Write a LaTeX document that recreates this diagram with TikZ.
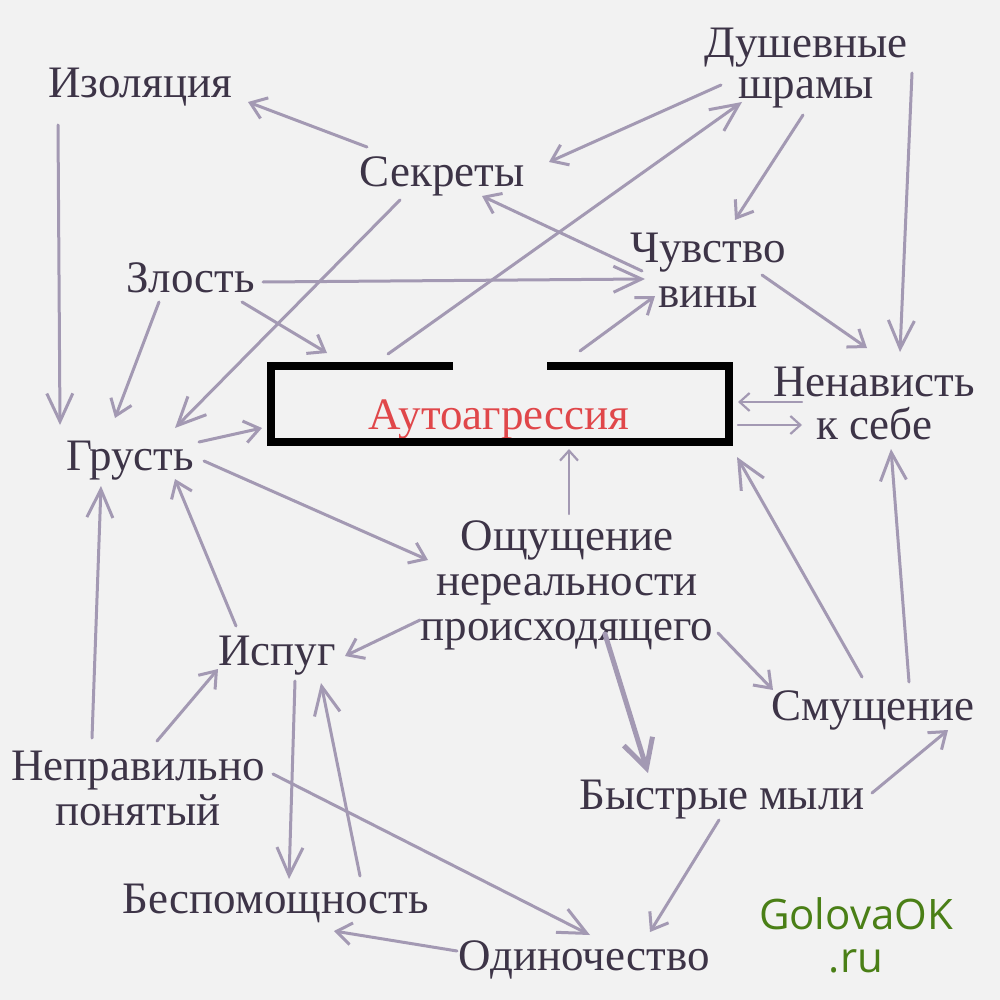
\documentclass[tikz,border=0pt]{standalone}
\usepackage{fontspec}
\setmainfont{Liberation Serif}
\newfontfamily\lblfont{Liberation Serif}
\newfontfamily\logofont{Open Sans}
\usetikzlibrary{arrows.meta}
\definecolor{bgc}{HTML}{F2F2F2}
\definecolor{txt}{HTML}{3D3447}
\definecolor{arc}{HTML}{A399B3}
\definecolor{redt}{HTML}{E0474A}
\definecolor{grn}{HTML}{4A7F16}
\tikzset{
 lbl/.style={inner sep=0pt, outer sep=0pt, text=txt, font=\lblfont\fontsize{45}{45}\selectfont, align=center},
 con/.style={draw=arc, line width=3pt, line cap=round},
 am/.style={con, -{Straight Barb[length=15pt,width=22pt]}},
 al/.style={con, -{Straight Barb[length=28pt,width=26pt]}},
 as/.style={con, line width=2.2pt, -{Straight Barb[length=10pt,width=18pt]}},
 ath/.style={con, line width=5pt, -{Straight Barb[length=28pt,width=30pt]}},
}
\begin{document}
\begin{tikzpicture}[x=1pt,y=-1pt]
\fill[bgc] (0,0) rectangle (1000,1000);
\useasboundingbox (0,0) rectangle (1000,1000);

% nodes
\node[lbl, anchor=base] (izol) at (140,98) {Изоляция};
\node[lbl, anchor=north, font=\lblfont\fontsize{45}{41}\selectfont] (dush) at (806,28) {Душевные\\шрамы};
\node[lbl, anchor=base] (sekr) at (442,187) {Секреты};
\node[lbl, anchor=north] (chuv) at (708,233) {Чувство\\вины};
\node[lbl, anchor=base] (zlost) at (191,292) {Злость};
\node[lbl, anchor=north, font=\lblfont\fontsize{45}{43}\selectfont] (nenav) at (874,367) {Ненависть\\к себе};
\node[lbl, anchor=base] (grust) at (130,470) {Грусть};
\node[lbl, anchor=base, text=redt] (auto) at (499,429) {Аутоагрессия};
\node[inner sep=0pt, outer sep=0pt, minimum width=458pt, minimum height=76pt] (box) at (500,404) {};
\node[lbl, anchor=north] (oshch) at (567,521) {Ощущение\\нереальности\\происходящего};
\node[lbl, anchor=base] (ispug) at (277,665) {Испуг};
\node[lbl, anchor=base] (smush) at (873,720) {Смущение};
\node[lbl, anchor=north] (nepr) at (138,751) {Неправильно\\понятый};
\node[lbl, anchor=base] (bystr) at (722,809) {Быстрые мыли};
\node[lbl, anchor=base] (besp) at (276,913) {Беспомощность};
\node[lbl, anchor=base] (odin) at (584,970) {Одиночество};
\node[inner sep=0pt, anchor=north, text=grn, align=center, font=\logofont\fontsize{42}{43}\selectfont] (logo) at (856,897) {GolovaOK\\.ru};

% box with gap
\draw[line width=8pt, line join=miter] ([xshift=-47pt]box.north) -- (box.north west) -- (box.south west) -- (box.south east) -- (box.north east) -- ([xshift=47pt]box.north);

% connectors
\draw[al] ([shift={(-82,27)}]izol.base) -- ([shift={(-70,-45)}]grust.base);
\draw[am] ([shift={(-75,-40)}]sekr.base) -- ([shift={(108,4)}]izol.base);
\draw[al] ([shift={(-42,13)}]sekr.base) -- ([shift={(45,-42)}]grust.base);
\draw[al] ([shift={(72,-10)}]zlost.base) -- ([shift={(-63,46)}]chuv.north);
\draw[am] ([shift={(51,10)}]zlost.base) -- ([shift={(56,-13)}]box.north west);
\draw[am] ([shift={(-32,10)}]zlost.base) -- ([shift={(-15,-52)}]grust.base);
\draw[am] ([shift={(69,-28)}]grust.base) -- ([shift={(-9,62)}]box.north west);
\draw[al] ([shift={(117,-12)}]box.north west) -- ([shift={(-64,74)}]dush.north);
\draw[am] ([shift={(-85,57)}]dush.north) -- ([shift={(107,-25)}]sekr.base);
\draw[am] ([shift={(-66,38)}]chuv.north) -- ([shift={(40,9)}]sekr.base);
\draw[am] ([shift={(-3,87)}]dush.north) -- ([shift={(27,-13)}]chuv.north);
\draw[al] ([shift={(106,45)}]dush.north) -- ([shift={(26,-15)}]nenav.north);
\draw[am] ([shift={(54,42)}]chuv.north) -- ([shift={(-7,-19)}]nenav.north);
\draw[am] ([shift={(-149,-15)}]box.north east) -- ([shift={(-53,63)}]chuv.north);
\draw[as] ([shift={(-72,35)}]nenav.north) -- ([shift={(9,-2)}]box.east);
\draw[as] ([shift={(9,21)}]box.east) -- ([shift={(-72,58)}]nenav.north);
\draw[as] ([shift={(2,-7)}]oshch.north) -- ([shift={(69,7)}]box.south);
\draw[al] ([shift={(-11,-43)}]smush.base) -- ([shift={(8,15)}]box.south east);
\draw[al] ([shift={(36,-38)}]smush.base) -- ([shift={(17,82)}]nenav.north);
\draw[am] ([shift={(74,-9)}]grust.base) -- ([shift={(-139,39)}]oshch.north);
\draw[am] ([shift={(-41,-39)}]ispug.base) -- ([shift={(45,9)}]grust.base);
\draw[al] ([shift={(-46,-13)}]nepr.north) -- ([shift={(-29,16)}]grust.base);
\draw[am] ([shift={(19,-10)}]nepr.north) -- ([shift={(-59,4)}]ispug.base);
\draw[am] ([shift={(-147,99)}]oshch.north) -- ([shift={(68,-9)}]ispug.base);
\draw[al] ([shift={(18,16)}]ispug.base) -- ([shift={(13,-34)}]besp.base);
\draw[al] ([shift={(84,-37)}]besp.base) -- ([shift={(44,18)}]ispug.base);
\draw[al] ([shift={(135,23)}]nepr.north) -- ([shift={(6,-35)}]odin.base);
\draw[am] ([shift={(-127,-19)}]odin.base) -- ([shift={(58,18)}]besp.base);
\draw[ath] ([shift={(38,113)}]oshch.north) -- ([shift={(-74,-36)}]bystr.base);
\draw[am] ([shift={(151,112)}]oshch.north) -- ([shift={(-100,-30)}]smush.base);
\draw[am] ([shift={(150,-16)}]bystr.base) -- ([shift={(75,10)}]smush.base);
\draw[am] ([shift={(-3,11)}]bystr.base) -- ([shift={(66,-38)}]odin.base);
\end{tikzpicture}
\end{document}
